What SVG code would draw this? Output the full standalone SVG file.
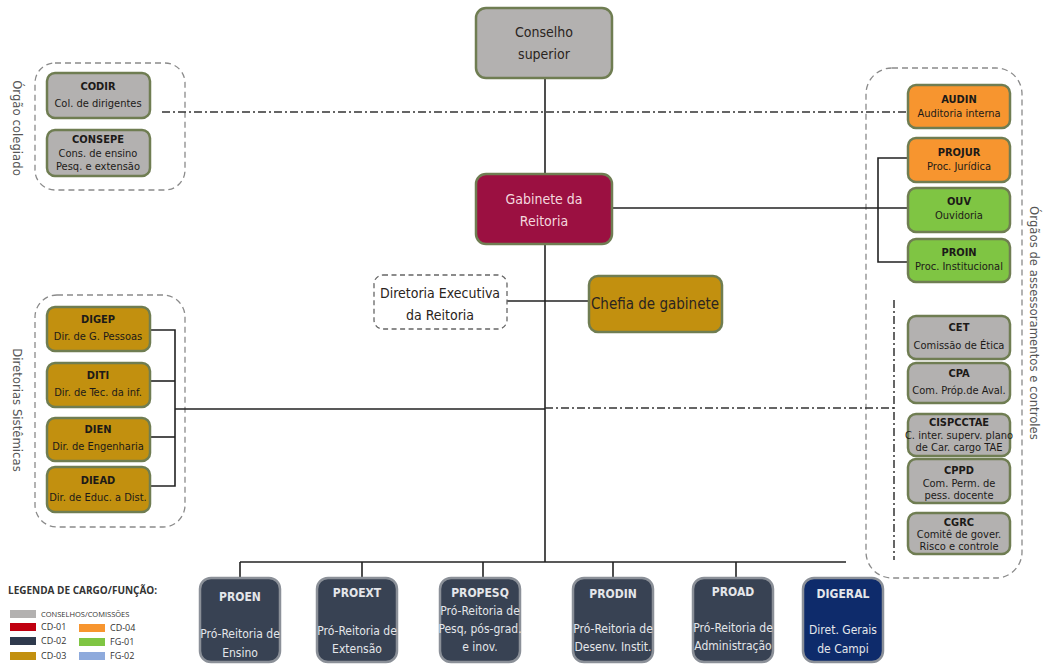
<svg xmlns="http://www.w3.org/2000/svg" width="1044" height="666" viewBox="0 0 1044 666">
  <defs>
    <style>
      text { font-family: "Liberation Sans Narrow", "DejaVu Sans Condensed", "Liberation Sans", sans-serif; text-anchor: middle; }
      .box { stroke: #6f7d52; stroke-width: 2.5; }
      .gray { fill: #b3b1b0; }
      .red { fill: #9b1041; }
      .gold { fill: #c2900f; }
      .orange { fill: #f7952f; }
      .green { fill: #7fc543; }
      .slate { fill: #384253; stroke: #8b9098; stroke-width: 2.5; }
      .navy { fill: #0e2b6b; stroke: #8b9098; stroke-width: 2.5; }
      .t { fill: #1c1a18; font-size: 11px; }
      .tb { fill: #1c1a18; font-size: 11px; font-weight: bold; }
      .big { fill: #2a2420; font-size: 14px; }
      .light { fill: #e4e6ea; font-size: 12px; }
      .lightb { fill: #e4e6ea; font-size: 12px; font-weight: bold; }
      .group { fill: none; stroke: #8a8a8a; stroke-width: 1.3; stroke-dasharray: 6 4; }
      .side { fill: #555; font-size: 13px; }
      .line { fill: none; stroke: #222; stroke-width: 1.6; }
      .dashdot { fill: none; stroke: #333; stroke-width: 1.5; stroke-dasharray: 8 3 2 3; }
      .leg { font-family: "Open Sans", "Liberation Sans", sans-serif; text-anchor: start; fill: #333; }
    </style>
  </defs>

  <!-- dashed grouping frames -->
  <g id="frames">
    <rect class="group" x="35" y="63" width="150" height="127" rx="20"/>
    <rect class="group" x="35" y="295" width="150" height="232" rx="22"/>
    <rect class="group" x="866" y="68" width="156" height="510" rx="26"/>
    <text class="side" transform="translate(13,128) rotate(90)">Órgão colegiado</text>
    <text class="side" transform="translate(13,410) rotate(90)">Diretorias Sistêmicas</text>
    <text class="side" transform="translate(1030,323) rotate(90)">Órgãos de assessoramentos e controles</text>
  </g>

  <!-- connectors -->
  <g id="connectors">
    <line class="dashdot" x1="162" y1="112" x2="908" y2="112"/>
    <line class="line" x1="545" y1="78" x2="545" y2="174"/>
    <line class="line" x1="545" y1="244" x2="545" y2="562"/>
    <line class="line" x1="612" y1="208" x2="908" y2="208"/>
    <polyline class="line" points="908,158 878,158 878,262 908,262"/>
    <line class="line" x1="507" y1="301" x2="589" y2="301"/>
    <line class="line" x1="175" y1="409" x2="545" y2="409"/>
    <polyline class="line" points="150,330 175,330 175,486 150,486"/>
    <line class="line" x1="150" y1="381" x2="175" y2="381"/>
    <line class="line" x1="150" y1="437" x2="175" y2="437"/>
    <line class="dashdot" x1="545" y1="408" x2="894" y2="408"/>
    <line class="dashdot" x1="894" y1="300" x2="894" y2="560"/>
    <line class="line" x1="240" y1="562" x2="846" y2="562"/>
    <line class="line" x1="240" y1="562" x2="240" y2="578"/>
    <line class="line" x1="362" y1="562" x2="362" y2="578"/>
    <line class="line" x1="483" y1="562" x2="483" y2="578"/>
    <line class="line" x1="613" y1="562" x2="613" y2="578"/>
    <line class="line" x1="736" y1="562" x2="736" y2="578"/>
  </g>

  <!-- central chain -->
  <g id="conselho-superior">
    <rect class="box gray" x="476" y="8" width="136" height="70" rx="10"/>
    <text class="big" x="544" y="37">Conselho</text>
    <text class="big" x="544" y="59">superior</text>
  </g>
  <g id="gabinete">
    <rect class="box red" x="476" y="174" width="136" height="70" rx="10"/>
    <text class="big" x="544" y="204" style="fill:#f4d8de">Gabinete da</text>
    <text class="big" x="544" y="226" style="fill:#f4d8de">Reitoria</text>
  </g>
  <g id="diretoria-executiva">
    <rect x="374" y="275" width="133" height="54" rx="9" fill="#fff" stroke="#666" stroke-width="1.3" stroke-dasharray="5 3.5"/>
    <text class="big" x="440" y="298">Diretoria Executiva</text>
    <text class="big" x="440" y="320">da Reitoria</text>
  </g>
  <g id="chefia">
    <rect class="box gold" x="589" y="276" width="133" height="56" rx="9"/>
    <text class="big" x="655" y="309" style="font-size:15px">Chefia de gabinete</text>
  </g>

  <!-- collegiate bodies -->
  <g id="codir">
    <rect class="box gray" x="47" y="73" width="103" height="45" rx="8"/>
    <text class="tb" x="98" y="90">CODIR</text>
    <text class="t" x="98" y="107">Col. de dirigentes</text>
  </g>
  <g id="consepe">
    <rect class="box gray" x="47" y="130" width="103" height="46" rx="8"/>
    <text class="tb" x="98" y="143">CONSEPE</text>
    <text class="t" x="98" y="157">Cons. de ensino</text>
    <text class="t" x="98" y="170">Pesq. e extensão</text>
  </g>

  <!-- systemic directorates -->
  <g id="digep">
    <rect class="box gold" x="47" y="307" width="103" height="44" rx="8"/>
    <text class="tb" x="98" y="323">DIGEP</text>
    <text class="t" x="98" y="340">Dir. de G. Pessoas</text>
  </g>
  <g id="diti">
    <rect class="box gold" x="47" y="363" width="103" height="44" rx="8"/>
    <text class="tb" x="98" y="379">DITI</text>
    <text class="t" x="98" y="396">Dir. de Tec. da inf.</text>
  </g>
  <g id="dien">
    <rect class="box gold" x="47" y="418" width="103" height="43" rx="8"/>
    <text class="tb" x="98" y="433">DIEN</text>
    <text class="t" x="98" y="450">Dir. de Engenharia</text>
  </g>
  <g id="diead">
    <rect class="box gold" x="47" y="467" width="103" height="45" rx="8"/>
    <text class="tb" x="98" y="484">DIEAD</text>
    <text class="t" x="98" y="501">Dir. de Educ. a Dist.</text>
  </g>

  <!-- advisory and control bodies -->
  <g id="audin">
    <rect class="box orange" x="908" y="85" width="102" height="43" rx="8"/>
    <text class="tb" x="959" y="103">AUDIN</text>
    <text class="t" x="959" y="117">Auditoria interna</text>
  </g>
  <g id="projur">
    <rect class="box orange" x="908" y="138" width="102" height="44" rx="8"/>
    <text class="tb" x="959" y="156">PROJUR</text>
    <text class="t" x="959" y="170">Proc. Jurídica</text>
  </g>
  <g id="ouv">
    <rect class="box green" x="908" y="188" width="102" height="44" rx="8"/>
    <text class="tb" x="959" y="205">OUV</text>
    <text class="t" x="959" y="219">Ouvidoria</text>
  </g>
  <g id="proin">
    <rect class="box green" x="908" y="239" width="102" height="43" rx="8"/>
    <text class="tb" x="959" y="256">PROIN</text>
    <text class="t" x="959" y="270">Proc. Institucional</text>
  </g>
  <g id="cet">
    <rect class="box gray" x="908" y="316" width="102" height="43" rx="8"/>
    <text class="tb" x="959" y="331">CET</text>
    <text class="t" x="959" y="349">Comissão de Ética</text>
  </g>
  <g id="cpa">
    <rect class="box gray" x="908" y="363" width="102" height="40" rx="8"/>
    <text class="tb" x="959" y="377">CPA</text>
    <text class="t" x="959" y="394">Com. Próp.de Aval.</text>
  </g>
  <g id="cispcctae">
    <rect class="box gray" x="908" y="414" width="102" height="42" rx="8"/>
    <text class="tb" x="959" y="426">CISPCCTAE</text>
    <text class="t" x="959" y="439">C. inter. superv. plano</text>
    <text class="t" x="959" y="451">de Car. cargo TAE</text>
  </g>
  <g id="cppd">
    <rect class="box gray" x="908" y="459" width="102" height="44" rx="8"/>
    <text class="tb" x="959" y="474">CPPD</text>
    <text class="t" x="959" y="487">Com. Perm. de</text>
    <text class="t" x="959" y="499">pess. docente</text>
  </g>
  <g id="cgrc">
    <rect class="box gray" x="908" y="513" width="102" height="41" rx="8"/>
    <text class="tb" x="959" y="526">CGRC</text>
    <text class="t" x="959" y="538">Comitê de gover.</text>
    <text class="t" x="959" y="550">Risco e controle</text>
  </g>

  <!-- pro-rectorates -->
  <g id="proen">
    <rect class="slate" x="200" y="578" width="80" height="84" rx="11"/>
    <text class="lightb" x="240" y="601">PROEN</text>
    <text class="light" x="240" y="638">Pró-Reitoria de</text>
    <text class="light" x="240" y="657">Ensino</text>
  </g>
  <g id="proext">
    <rect class="slate" x="317" y="578" width="80" height="84" rx="11"/>
    <text class="lightb" x="357" y="597">PROEXT</text>
    <text class="light" x="357" y="635">Pró-Reitoria de</text>
    <text class="light" x="357" y="653">Extensão</text>
  </g>
  <g id="propesq">
    <rect class="slate" x="440" y="578" width="80" height="84" rx="11"/>
    <text class="lightb" x="480" y="597">PROPESQ</text>
    <text class="light" x="480" y="615">Pró-Reitoria de</text>
    <text class="light" x="480" y="633">Pesq, pós-grad.</text>
    <text class="light" x="480" y="651">e inov.</text>
  </g>
  <g id="prodin">
    <rect class="slate" x="573" y="578" width="80" height="84" rx="11"/>
    <text class="lightb" x="613" y="598">PRODIN</text>
    <text class="light" x="613" y="633">Pró-Reitoria de</text>
    <text class="light" x="613" y="651">Desenv. Instit.</text>
  </g>
  <g id="proad">
    <rect class="slate" x="693" y="578" width="80" height="84" rx="11"/>
    <text class="lightb" x="733" y="596">PROAD</text>
    <text class="light" x="733" y="632">Pró-Reitoria de</text>
    <text class="light" x="733" y="650">Administração</text>
  </g>
  <g id="digeral">
    <rect class="navy" x="803" y="578" width="80" height="84" rx="11"/>
    <text class="lightb" x="843" y="598">DIGERAL</text>
    <text class="light" x="843" y="634">Diret. Gerais</text>
    <text class="light" x="843" y="653">de Campi</text>
  </g>

  <!-- legend -->
  <g id="legend">
    <text class="leg" x="8" y="594" style="font-size:10px;font-weight:bold">LEGENDA DE  CARGO/FUNÇÃO:</text>
    <rect x="10" y="610" width="26" height="8" fill="#b3b1b0"/>
    <text class="leg" x="41" y="617" style="font-size:7.5px">CONSELHOS/COMISSÕES</text>
    <rect x="10" y="623" width="26" height="8" fill="#c00010"/>
    <text class="leg" x="41" y="630" style="font-size:9px">CD-01</text>
    <rect x="10" y="637" width="26" height="8" fill="#2f3a4d"/>
    <text class="leg" x="41" y="644" style="font-size:9px">CD-02</text>
    <rect x="10" y="652" width="26" height="8" fill="#c2900f"/>
    <text class="leg" x="41" y="659" style="font-size:9px">CD-03</text>
    <rect x="79" y="624" width="26" height="8" fill="#f7952f"/>
    <text class="leg" x="110" y="631" style="font-size:9px">CD-04</text>
    <rect x="79" y="638" width="26" height="8" fill="#7fc543"/>
    <text class="leg" x="110" y="645" style="font-size:9px">FG-01</text>
    <rect x="79" y="652" width="26" height="8" fill="#8eaadc"/>
    <text class="leg" x="110" y="659" style="font-size:9px">FG-02</text>
  </g>
</svg>
